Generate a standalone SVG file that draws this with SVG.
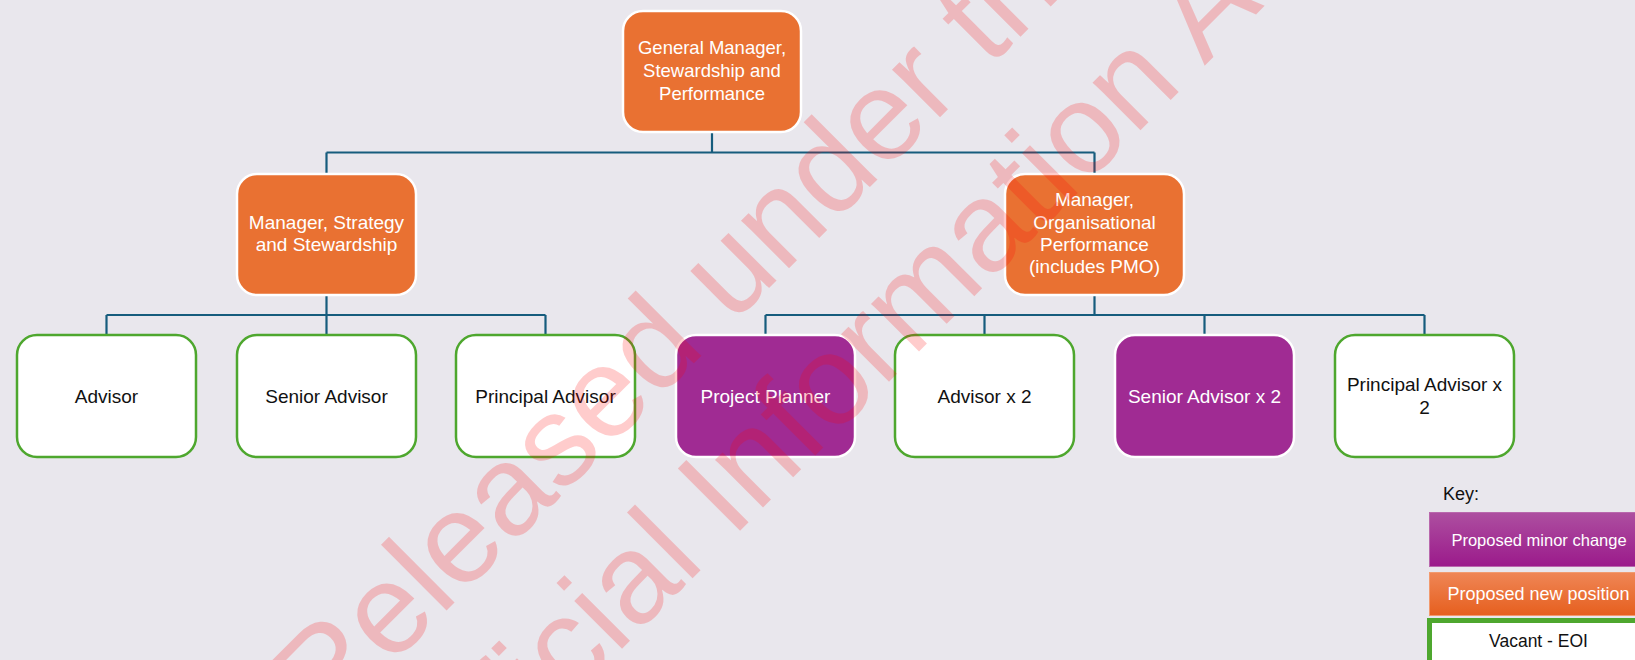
<svg xmlns="http://www.w3.org/2000/svg" width="1635" height="660" viewBox="0 0 1635 660">
<defs>
<linearGradient id="gPurple" x1="0" y1="0" x2="0" y2="1">
<stop offset="0" stop-color="#AD4FA0"/>
<stop offset="1" stop-color="#9B1A8B"/>
</linearGradient>
<linearGradient id="gOrange" x1="0" y1="0" x2="0" y2="1">
<stop offset="0" stop-color="#EF8656"/>
<stop offset="1" stop-color="#E65F1E"/>
</linearGradient>
<style>
.bg{fill:#E9E7ED}
.orange{fill:#E97132;stroke:#FFFFFF;stroke-width:2.5}
.purple{fill:#A02B93;stroke:#FFFFFF;stroke-width:2.5}
.vacant{fill:#FFFFFF;stroke:#4EA72E;stroke-width:2.5}
.conn{fill:none;stroke:#165C7D;stroke-width:2.2}
.t{font-family:"Liberation Sans",Arial,sans-serif;font-size:19px;text-anchor:middle}
.w{fill:#FFFFFF}
.k{fill:#111111}
.wm{font-family:"Liberation Sans",Arial,sans-serif;font-size:128px;fill:#FF0000;fill-opacity:0.2}
</style>
</defs>
<rect class="bg" x="0" y="0" width="1635" height="660"/>

<g id="connectors">
<path class="conn" d="M712 132 V152.5 M326.5 152.5 H1094.5 M326.5 152.5 V174 M1094.5 152.5 V174"/>
<path class="conn" d="M326.5 295 V315 M106.5 315 H545.5 M106.5 315 V335 M326.5 315 V335 M545.5 315 V335"/>
<path class="conn" d="M1094.5 295 V315 M765.5 315 H1424.5 M765.5 315 V335 M984.5 315 V335 M1204.5 315 V335 M1424.5 315 V335"/>
</g>

<g id="gm">
<rect class="orange" x="623" y="11" width="178" height="121" rx="20"/>
<text class="t w" x="712" style="font-size:18.5px"><tspan x="712" y="54">General Manager,</tspan><tspan x="712" y="77">Stewardship and</tspan><tspan x="712" y="99.5">Performance</tspan></text>
</g>

<g id="mgr-strategy">
<rect class="orange" x="237" y="174" width="179" height="121" rx="20"/>
<text class="t w"><tspan x="326.5" y="229">Manager, Strategy</tspan><tspan x="326.5" y="251">and Stewardship</tspan></text>
</g>

<g id="mgr-org">
<rect class="orange" x="1005" y="174" width="179" height="121" rx="20"/>
<text class="t w"><tspan x="1094.5" y="206">Manager,</tspan><tspan x="1094.5" y="228.5">Organisational</tspan><tspan x="1094.5" y="251">Performance</tspan><tspan x="1094.5" y="273">(includes PMO)</tspan></text>
</g>

<g id="advisor">
<rect class="vacant" x="17" y="335" width="179" height="122" rx="20"/>
<text class="t k" x="106.5" y="403">Advisor</text>
</g>

<g id="senior-advisor">
<rect class="vacant" x="237" y="335" width="179" height="122" rx="20"/>
<text class="t k" x="326.5" y="403">Senior Advisor</text>
</g>

<g id="principal-advisor">
<rect class="vacant" x="456" y="335" width="179" height="122" rx="20"/>
<text class="t k" x="545.5" y="403">Principal Advisor</text>
</g>

<g id="project-planner">
<rect class="purple" x="676" y="335" width="179" height="122" rx="20"/>
<text class="t w" x="765.5" y="403">Project Planner</text>
</g>

<g id="advisor-x2">
<rect class="vacant" x="895" y="335" width="179" height="122" rx="20"/>
<text class="t k" x="984.5" y="403">Advisor x 2</text>
</g>

<g id="senior-advisor-x2">
<rect class="purple" x="1115" y="335" width="179" height="122" rx="20"/>
<text class="t w" x="1204.5" y="403">Senior Advisor x 2</text>
</g>

<g id="principal-advisor-x2">
<rect class="vacant" x="1335" y="335" width="179" height="122" rx="20"/>
<text class="t k"><tspan x="1424.5" y="391">Principal Advisor x</tspan><tspan x="1424.5" y="413.5">2</tspan></text>
</g>

<g id="key">
<text x="1443" y="500" style="font-family:'Liberation Sans',Arial,sans-serif;font-size:18px;fill:#111111">Key:</text>
<rect x="1429.5" y="512.5" width="220" height="54" fill="url(#gPurple)" stroke="#B968AD" stroke-width="1"/>
<text x="1539" y="545.5" style="font-family:'Liberation Sans',Arial,sans-serif;font-size:16.5px;fill:#FFFFFF;text-anchor:middle">Proposed minor change</text>
<rect x="1429.5" y="572.5" width="220" height="43" fill="url(#gOrange)" stroke="#F29A6E" stroke-width="1"/>
<text x="1538.5" y="600" style="font-family:'Liberation Sans',Arial,sans-serif;font-size:18px;fill:#FFFFFF;text-anchor:middle">Proposed new position</text>
<rect x="1429.5" y="620.5" width="220" height="50" fill="#FFFFFF" stroke="#4EA72E" stroke-width="5"/>
<text x="1538.5" y="647" style="font-family:'Liberation Sans',Arial,sans-serif;font-size:17.5px;fill:#111111;text-anchor:middle">Vacant - EOI</text>
</g>

<g id="watermark" transform="translate(324.8,732.3) rotate(-45)">
<text class="wm" x="0" y="0">Released under the</text>
<text class="wm" x="0" y="151">Official Information Act</text>
</g>
</svg>
